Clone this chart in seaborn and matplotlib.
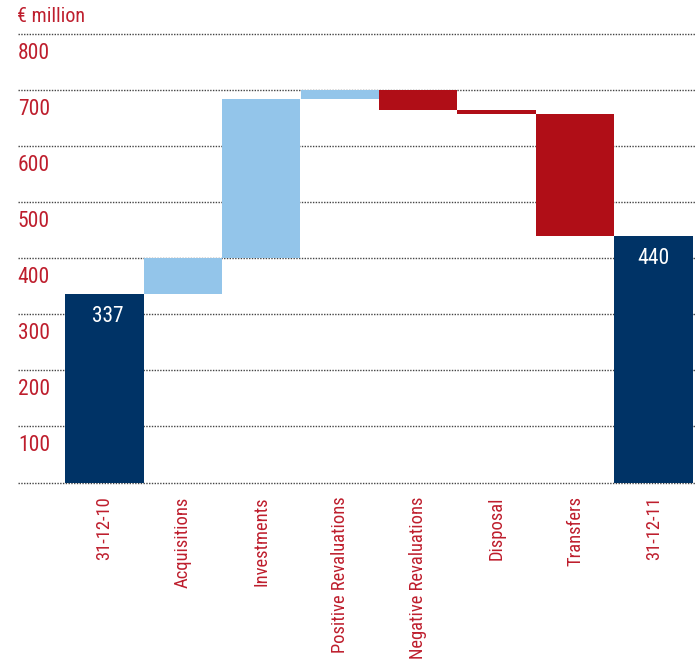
import matplotlib
matplotlib.use("Agg")
import matplotlib.pyplot as plt
import matplotlib.transforms as mtransforms
import seaborn as sns
import pandas as pd
import numpy as np

# Property portfolio bridge, € million
categories = ["31-12-10", "Acquisitions", "Investments", "Positive Revaluations",
              "Negative Revaluations", "Disposal", "Transfers", "31-12-11"]
changes = [337, 63, 285, 15, -35, -7, -218, 440]
kinds = ["total", "up", "up", "up", "down", "down", "down", "total"]
y_ticks = [100, 200, 300, 400, 500, 600, 700, 800]

kind_colors = {"total": "#003366", "up": "#93C5EA", "down": "#B00E17"}
text_red = "#BE1E2D"

# waterfall bottoms and heights
bottoms, heights = [], []
running = 0
for val, kind in zip(changes, kinds):
    if kind == "total":
        bottoms.append(0)
        heights.append(val)
        running = val
    else:
        if val >= 0:
            bottoms.append(running)
        else:
            bottoms.append(running + val)
        heights.append(abs(val))
        running += val

df = pd.DataFrame({"category": categories, "height": heights, "kind": kinds})

sns.set_style("white")
plt.rcParams["font.family"] = ["Roboto Condensed", "DejaVu Sans Condensed",
                               "Roboto", "DejaVu Sans"]

W, H = 696, 664
fig = plt.figure(figsize=(W / 100, H / 100), dpi=100)
ax_left, ax_right = 18, 696
ax_top, ax_bottom = 34.3, 482.5
ax = fig.add_axes([ax_left / W, 1 - ax_bottom / H,
                   (ax_right - ax_left) / W, (ax_bottom - ax_top) / H])

sns.barplot(data=df, x="category", y="height", ax=ax, width=1.0,
            color=kind_colors["total"], saturation=1,
            bottom=np.array(bottoms, dtype=float), linewidth=0,
            edgecolor="none", errorbar=None)
for patch, kind in zip(ax.patches, kinds):
    patch.set_facecolor(kind_colors[kind])
    patch.set_zorder(2)

ax.set_ylim(0, 800)
ax.set_xlim(-1.1, 7.54)
ax.set_yticks([0] + y_ticks)
ax.set_yticklabels([])
ax.tick_params(axis="y", length=0)
ax.grid(axis="y", linestyle=(0, (1, 1)), color="#444444", linewidth=1.0)
ax.set_axisbelow(True)
for line in ax.get_ygridlines():
    line.set_clip_on(False)
for s in ax.spines.values():
    s.set_visible(False)
ax.set_xlabel("")
ax.set_ylabel("")

# category labels, rotated
ax.tick_params(axis="x", length=0, pad=10)
ax.set_xticks(range(len(categories)))
ax.set_xticklabels(categories, rotation=90, va="top", ha="center",
                   color=text_red, fontsize=13.3)

# y labels sit just below their gridlines
trans = mtransforms.blended_transform_factory(ax.transAxes, ax.transData)
for v in y_ticks:
    t = ax.text((50 - ax_left) / (ax_right - ax_left), v, str(v), transform=trans,
                ha="right", va="center", color=text_red, fontsize=15.5)
    t.set_transform(trans + mtransforms.ScaledTranslation(0, -19.5 / 100, fig.dpi_scale_trans))

# value labels on the totals
for i, (val, kind) in enumerate(zip(changes, kinds)):
    if kind == "total":
        t = ax.text(i, val, str(val), ha="center", va="center", color="white",
                    fontsize=15.5, zorder=3)
        t.set_transform(ax.transData + mtransforms.ScaledTranslation(
            3 / 100 if i == 0 else 0, -23 / 100, fig.dpi_scale_trans))

fig.text(17 / W, 1 - 17 / H, "€ million", ha="left", va="center",
         color=text_red, fontsize=14.5)

fig.savefig("out.png", dpi=100)
